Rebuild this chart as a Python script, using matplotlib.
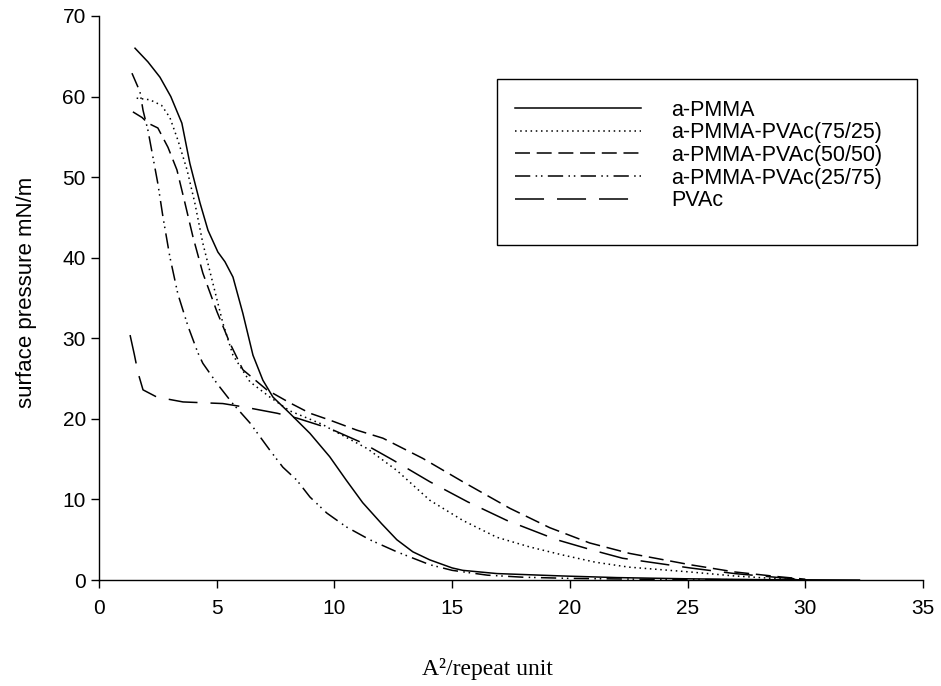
"""
Surface pressure isotherms for a-PMMA / PVAc blends.
Writes out.png (941x686).
"""

import matplotlib
matplotlib.use("Agg")
import matplotlib.pyplot as plt
from matplotlib.patches import Rectangle

# ── Data ──────────────────────────────────────────────────────────────────────
pmma_x = [1.53, 2.08, 2.59, 3.05, 3.52, 3.86, 4.29, 4.63, 5.05, 5.35, 5.69, 6.11,
          6.54, 6.96, 7.39, 8.1, 8.96, 9.8, 10.5, 11.2, 12.0, 12.65, 13.33, 14.05,
          15.0, 15.45, 16.9, 19.7, 22.0, 25.0, 28.0, 32.3]
pmma_y = [66.0, 64.3, 62.4, 60.0, 56.7, 51.7, 46.8, 43.4, 40.7, 39.5, 37.6, 33.1,
          27.9, 24.8, 22.7, 20.7, 18.2, 15.3, 12.4, 9.6, 7.0, 5.0, 3.5, 2.5,
          1.5, 1.2, 0.8, 0.5, 0.3, 0.15, 0.05, 0.0]

b7525_x = [1.6, 2.16, 2.66, 3.01, 3.35, 3.74, 4.07, 4.41, 4.84, 5.26, 5.69, 6.41,
           7.26, 8.1, 9.5, 9.8, 11.4, 12.65, 14.05, 15.45, 16.9, 18.3, 19.7, 21.1,
           22.5, 25.1, 27.0, 28.9, 30.0]
b7525_y = [59.8, 59.6, 58.9, 57.4, 54.6, 50.9, 46.8, 41.8, 36.8, 31.9, 27.9, 24.6,
           22.7, 21.0, 19.3, 18.8, 16.3, 13.6, 9.9, 7.4, 5.3, 4.1, 3.1, 2.2,
           1.6, 1.0, 0.5, 0.15, 0.0]

b5050_x = [1.44, 1.83, 2.08, 2.5, 2.93, 3.31, 3.65, 3.99, 4.41, 5.01, 5.56, 6.11,
           7.13, 8.1, 8.96, 9.8, 10.95, 12.06, 13.75, 15.45, 17.45, 19.14, 20.84,
           22.54, 25.1, 27.0, 28.9, 30.0]
b5050_y = [58.1, 57.4, 56.7, 56.1, 53.7, 50.9, 46.8, 42.6, 38.1, 33.3, 29.4, 26.1,
           23.6, 22.0, 20.7, 19.85, 18.6, 17.6, 15.1, 12.2, 8.9, 6.5, 4.6,
           3.3, 1.9, 1.0, 0.4, 0.1]

b2575_x = [1.40, 1.74, 1.87, 2.08, 2.29, 2.5, 2.72, 3.01, 3.35, 3.78, 4.2, 4.41,
           5.01, 5.65, 6.41, 7.26, 7.81, 8.4, 8.96, 9.68, 10.5, 11.5, 12.65, 14.05,
           15.0, 16.5, 18.0, 20.0, 23.0, 26.0, 30.0]
b2575_y = [62.9, 60.6, 58.3, 55.8, 52.5, 49.2, 45.0, 40.1, 35.5, 31.5, 28.2, 26.9,
           24.4, 22.0, 19.5, 16.1, 14.0, 12.4, 10.3, 8.3, 6.6, 5.0, 3.5, 1.9,
           1.2, 0.6, 0.35, 0.2, 0.1, 0.05, 0.0]

pvac_x = [1.32, 1.5, 1.66, 1.87, 2.46, 3.57, 5.26, 6.11, 7.56, 8.4, 9.8, 11.2,
          12.48, 14.05, 15.66, 17.32, 19.44, 20.97, 22.24, 25.1, 27.0, 28.9, 30.0]
pvac_y = [30.4, 28.0, 25.7, 23.6, 22.7, 22.1, 21.9, 21.5, 20.7, 20.1, 18.8, 17.0,
          14.9, 12.2, 9.7, 7.4, 5.0, 3.7, 2.7, 1.5, 0.8, 0.3, 0.05]

labels = ["a-PMMA", "a-PMMA-PVAc(75/25)", "a-PMMA-PVAc(50/50)",
          "a-PMMA-PVAc(25/75)", "PVAc"]

# ── Style ─────────────────────────────────────────────────────────────────────
LW = 1.1
STYLES = [
    "-",
    (0, (1, 2.4)),
    (0, (9.8, 4.4)),
    (0, (10, 3.5, 1, 2.5, 1, 3.5)),
    (0, (19, 8.5)),
]

plt.rcParams["font.family"] = ["Liberation Sans", "DejaVu Sans"]

fig = plt.figure(figsize=(9.41, 6.86), dpi=100)
ax = fig.add_axes([0.1052, 0.1545, 0.8757, 0.8222])

series = [(pmma_x, pmma_y), (b7525_x, b7525_y), (b5050_x, b5050_y),
          (b2575_x, b2575_y), (pvac_x, pvac_y)]
for (xs, ys), ls, lab in zip(series, STYLES, labels):
    ax.plot(xs, ys, color="black", linewidth=LW, linestyle=ls, label=lab)

ax.set_xlim(0, 35)
ax.set_ylim(0, 70)
ax.set_xticks(range(0, 36, 5))
ax.set_yticks(range(0, 71, 10))
ax.spines[["top", "right"]].set_visible(False)
ax.spines[["left", "bottom"]].set_linewidth(1.0)
ax.tick_params(direction="out", length=6, width=1.0, labelsize=15)
ax.tick_params(axis="x", pad=7.5)
ax.tick_params(axis="y", pad=3.5)

ax.set_ylabel("surface pressure mN/m", fontsize=16)
ax.yaxis.set_label_coords(-0.075, 0.51)
ax.set_xlabel("A²/repeat unit", fontsize=17, family=["Liberation Serif"])
ax.xaxis.set_label_coords(0.472, -0.138)

# legend: frame drawn separately (the original box has extra space below)
ax.add_patch(Rectangle((0.483, 0.594), 0.51, 0.294, transform=ax.transAxes,
                       fill=False, edgecolor="black", linewidth=1.0, zorder=4))
ax.legend(loc="upper left", bbox_to_anchor=(0.497, 0.863), frameon=False,
          fontsize=15.5, handlelength=5.86, handletextpad=1.4, labelspacing=0.075,
          borderaxespad=0, borderpad=0.3)

fig.savefig("out.png", dpi=100, facecolor="white")
